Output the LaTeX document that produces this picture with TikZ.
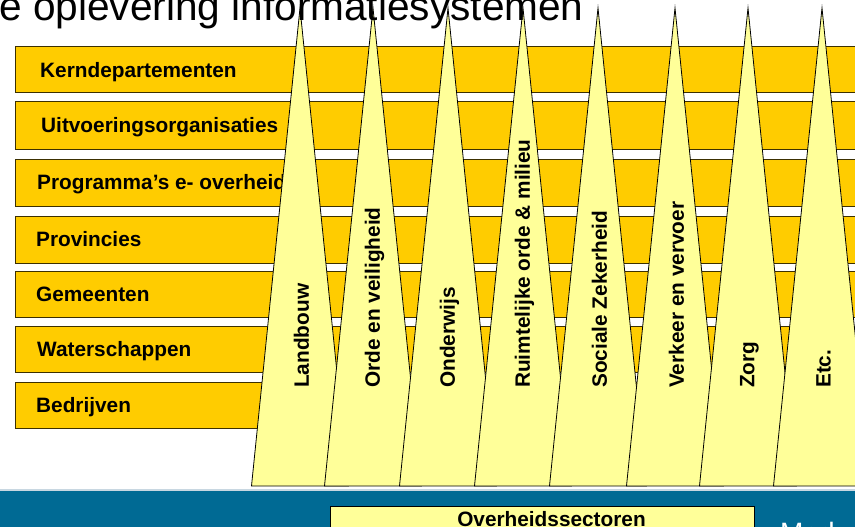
\documentclass[tikz,border=0pt]{standalone}
\usepackage{fontspec}
\setmainfont{Liberation Sans}
\definecolor{barfill}{RGB}{255,204,0}
\definecolor{barline}{RGB}{60,48,0}
\definecolor{trifill}{RGB}{255,255,153}
\definecolor{bandblue}{RGB}{0,106,148}
\definecolor{lightline}{RGB}{200,215,225}
\begin{document}
\begin{tikzpicture}[x=1pt,y=-1pt,
  bar/.style={fill=barfill,draw=barline,line width=1pt},
  barlabel/.style={anchor=base west,inner sep=0pt,font=\fontsize{20.8}{24}\selectfont\bfseries},
  sector/.style={fill=trifill,draw=black,line width=0.8pt,line join=miter},
  sectorlabel/.style={rotate=90,anchor=west,inner sep=0pt,font=\fontsize{20.8}{24}\selectfont\bfseries},
  legendbox/.style={fill=trifill,draw=black,line width=1pt},
  legendlabel/.style={anchor=base,inner sep=0pt,font=\fontsize{20.8}{24}\selectfont\bfseries},
  titletext/.style={anchor=base west,inner sep=0pt,font=\fontsize{40.6}{48}\selectfont},
  bandtext/.style={anchor=base west,inner sep=0pt,text=white,font=\fontsize{28}{32}\selectfont}]
\useasboundingbox (0,0) rectangle (855,527);
\clip (0,0) rectangle (855,527);
\fill[white] (0,0) rectangle (855,527);
% horizontal bars
\foreach \t/\b/\lx/\txt [count=\i] in {
  47/93/40/Kerndepartementen,
  102/149/41/Uitvoeringsorganisaties,
  159/206/37/{Programma’s e- overheid},
  216/263/36/Provincies,
  271/317/36/Gemeenten,
  326/372/37/Waterschappen,
  382/428/36/Bedrijven}{
  \draw[bar] (15,\t) rectangle (875,\b);
  \node[barlabel] (lab\i) at (\lx,{(\t+\b)/2+7.2}) {\txt};
}
% sector triangles
\foreach \ax/\txt [count=\i] in {
  300/Landbouw,
  373/Orde en veiligheid,
  448/Onderwijs,
  523/Ruimtelijke orde \& milieu,
  598/Sociale Zekerheid,
  675/Verkeer en vervoer,
  748/Zorg,
  822/Etc.}{
  \coordinate (apex\i) at (\ax,8);
  \coordinate (bl\i) at (\ax-48.5,486);
  \coordinate (br\i) at (\ax+48.5,486);
  \path[sector] (apex\i) -- (br\i) -- (bl\i) -- cycle;
  \node[sectorlabel] (sec\i) at (\ax+1.5,388) {\txt};
}
% bottom band
\fill[white] (0,486.8) rectangle (855,489);
\fill[lightline] (0,489) rectangle (855,491);
\fill[bandblue] (0,491) rectangle (855,527);
\draw[legendbox] (330,506) rectangle (754,545);
\node[legendlabel] (legend) at (551.5,526.5) {Overheidssectoren};
\node[bandtext] (band) at (780,542) {Med};
% title
\node[titletext] (title) at (-1,20.5) {e oplevering informatiesystemen};
\end{tikzpicture}
\end{document}
